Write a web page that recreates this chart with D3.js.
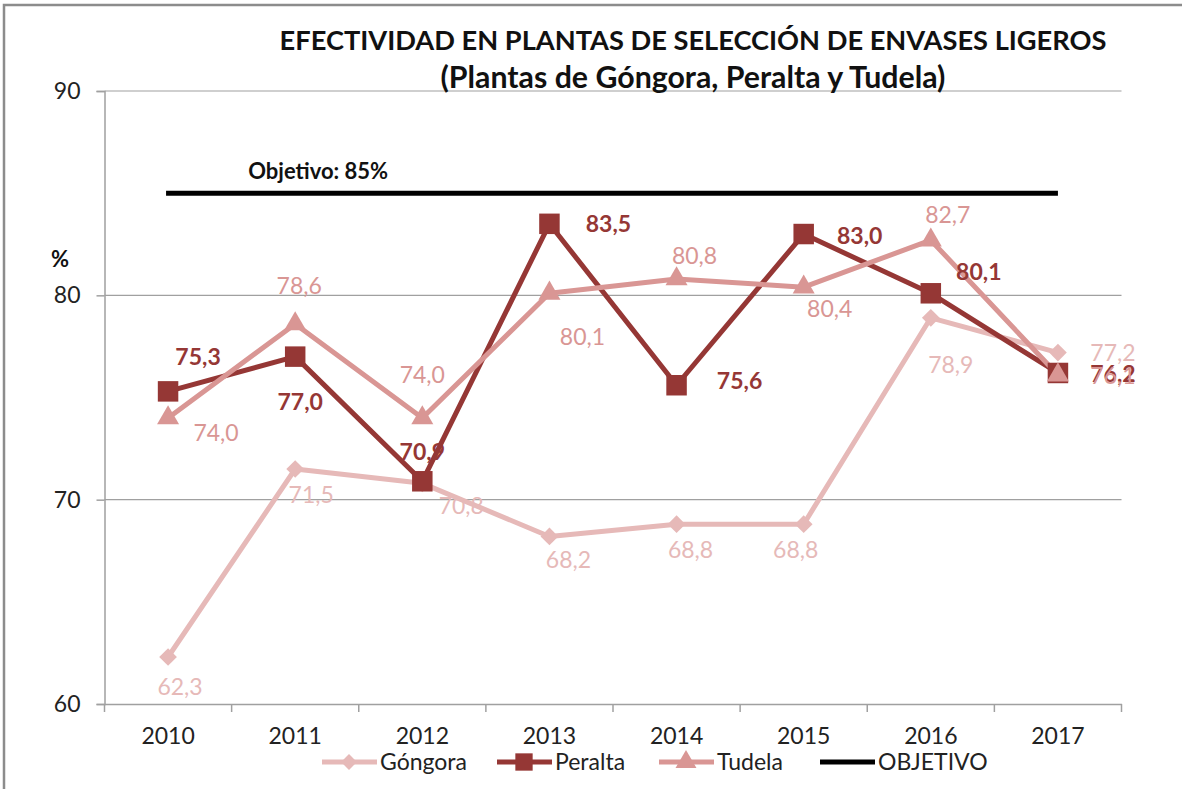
<!DOCTYPE html>
<html>
<head>
<meta charset="utf-8">
<script src="https://cdn.jsdelivr.net/npm/d3@7"></script>
<style>
body{margin:0;background:#fff;}
svg{display:block;font-family:Lato,"Open Sans",sans-serif;}
</style>
</head>
<body>
<svg id="display" width="1182" height="789"></svg>
<script>
// data
const years=["2010","2011","2012","2013","2014","2015","2016","2017"];
const gongora=[62.3,71.5,70.8,68.2,68.8,68.8,78.9,77.2];
const peralta=[75.3,77.0,70.9,83.5,75.6,83.0,80.1,76.2];
const tudela=[74.0,78.6,74.0,80.1,80.8,80.4,82.7,76.1];
const objetivo=85;
const y_ticks=[60,70,80,90];

// label offsets from each point (px), label centre
const gongora_off=[[12,30],[16,26],[39,23],[19,24],[14,26],[-8,26],[20,47],[55,0]];
const peralta_off=[[30,-34],[5,45],[0,-29],[59,0],[63,-4],[56,2],[48,-21],[55,1]];
const tudela_off=[[48,15],[4,-38],[0,-43],[33,44],[18,-23],[26,22],[17,-25],[55,1]];

const display=d3.select("#display");
const font_size="23px";

// frame
display.append("rect")
    .attr("x",4).attr("y",5)
    .attr("width",1300).attr("height",900)
    .attr("fill","none")
    .attr("stroke","#8c8c8c")
    .attr("stroke-width",2.5);

const plot_left=104.5, plot_right=1121.5, plot_top=91, plot_bottom=704;

const x=d3.scaleBand().domain(years).range([plot_left,plot_right]);
const y=d3.scaleLinear().domain([60,90]).range([plot_bottom,plot_top]);
const cx=d=>x(d)+x.bandwidth()/2;

// gridlines
display.append("g").selectAll("line").data(y_ticks.filter(d=>d>60)).join("line")
    .attr("x1",plot_left).attr("x2",plot_right)
    .attr("y1",d=>y(d)).attr("y2",d=>y(d))
    .attr("stroke","#a0a0a0").attr("stroke-width",1.2);

// axes
const y_axis=display.append("g")
    .attr("transform","translate("+plot_left+",0)")
    .call(d3.axisLeft(y).tickValues(y_ticks).tickSize(8).tickPadding(16).tickFormat(d3.format("d")));
const x_axis=display.append("g")
    .attr("transform","translate(0,"+plot_bottom+")")
    .call(d3.axisBottom(x).tickSize(0).tickPadding(24));
for (const g of [y_axis,x_axis]){
    g.select(".domain").attr("stroke","#a0a0a0").attr("stroke-width",1.5);
    g.selectAll(".tick line").attr("stroke","#a0a0a0").attr("stroke-width",1.5);
    g.selectAll("text").style("font-size",font_size).style("fill","#222").style("font-family","Lato");
}
// category tick marks at band edges
display.append("g").selectAll("line").data(years.concat(["end"])).join("line")
    .attr("x1",(d,i)=>plot_left+i*x.bandwidth())
    .attr("x2",(d,i)=>plot_left+i*x.bandwidth())
    .attr("y1",plot_bottom).attr("y2",plot_bottom+8)
    .attr("stroke","#a0a0a0").attr("stroke-width",1.5);

// titles, fitted to the width they have in the picture
function fit_title(txt,cy,width){
    const t=display.append("text")
        .attr("x",693).attr("y",cy)
        .attr("dy","0.35em")
        .style("text-anchor","middle")
        .style("font-size","26px").style("font-weight","bold")
        .style("fill","#111")
        .text(txt);
    const w=t.node().getComputedTextLength();
    t.style("font-size",(26*width/w).toFixed(2)+"px");
}
fit_title("EFECTIVIDAD EN PLANTAS DE SELECCIÓN DE ENVASES LIGEROS",40,827);
fit_title("(Plantas de Góngora, Peralta y Tudela)",77,505);

display.append("text")
    .attr("x",60).attr("y",259)
    .attr("dy","0.35em")
    .style("text-anchor","middle")
    .style("font-size","22px").style("font-weight","bold")
    .style("fill","#111")
    .text("%");

// objetivo line
display.append("line")
    .attr("x1",cx(years[0])-2).attr("x2",cx(years[years.length-1]))
    .attr("y1",y(objetivo)).attr("y2",y(objetivo))
    .attr("stroke","#000").attr("stroke-width",5);
display.append("text")
    .attr("x",cx(years[1])+23).attr("y",y(objetivo)-22)
    .attr("dy","0.35em")
    .style("text-anchor","middle")
    .style("font-size","22px").style("font-weight","bold")
    .style("fill","#111")
    .text("Objetivo: "+objetivo+"%");

// series in legend order: later ones are drawn on top
const series_list=[
    {name:"Góngora",values:gongora,color:"#e6b9b8",symbol:d3.symbolDiamond2,size:200,weight:"normal",off:gongora_off},
    {name:"Peralta",values:peralta,color:"#953735",symbol:d3.symbolSquare,size:420,weight:"bold",off:peralta_off},
    {name:"Tudela",values:tudela,color:"#d99694",symbol:d3.symbolTriangle,size:210,weight:"normal",off:tudela_off}
];

const line=d3.line().x((d,i)=>cx(years[i])).y(d=>y(d));
const fmt=v=>v.toFixed(1).replace(".",",");

for (const s of series_list){
    display.append("path")
        .attr("d",line(s.values))
        .attr("fill","none")
        .attr("stroke",s.color)
        .attr("stroke-width",5)
        .attr("stroke-linejoin","round");
}
for (const s of series_list){
    display.append("g").selectAll("path").data(s.values).join("path")
        .attr("d",d3.symbol().type(s.symbol).size(s.size))
        .attr("transform",(d,i)=>"translate("+cx(years[i])+","+y(d)+")")
        .attr("fill",s.color);
}
for (const s of series_list){
    display.append("g").selectAll("text").data(s.values).join("text")
        .attr("x",(d,i)=>cx(years[i])+s.off[i][0])
        .attr("y",(d,i)=>y(d)+s.off[i][1])
        .attr("dy","0.35em")
        .style("text-anchor","middle")
        .style("font-size",font_size)
        .style("font-weight",s.weight)
        .style("fill",s.color)
        .text(d=>fmt(d));
}

// legend
const legend_items=[
    {name:"Góngora",color:"#e6b9b8",symbol:d3.symbolDiamond2,size:160,x:322},
    {name:"Peralta",color:"#953735",symbol:d3.symbolSquare,size:300,x:497},
    {name:"Tudela",color:"#d99694",symbol:d3.symbolTriangle,size:190,x:659},
    {name:"OBJETIVO",color:"#000",symbol:null,size:0,x:820}
];
const ly=762;
for (const item of legend_items){
    display.append("line")
        .attr("x1",item.x).attr("x2",item.x+55)
        .attr("y1",ly).attr("y2",ly)
        .attr("stroke",item.color).attr("stroke-width",5);
    if (item.symbol){
        display.append("path")
            .attr("d",d3.symbol().type(item.symbol).size(item.size))
            .attr("transform","translate("+(item.x+27)+","+ly+")")
            .attr("fill",item.color);
    }
    display.append("text")
        .attr("x",item.x+58).attr("y",ly)
        .attr("dy","0.35em")
        .style("font-size",font_size)
        .style("fill","#222")
        .text(item.name);
}
</script>
</body>
</html>
